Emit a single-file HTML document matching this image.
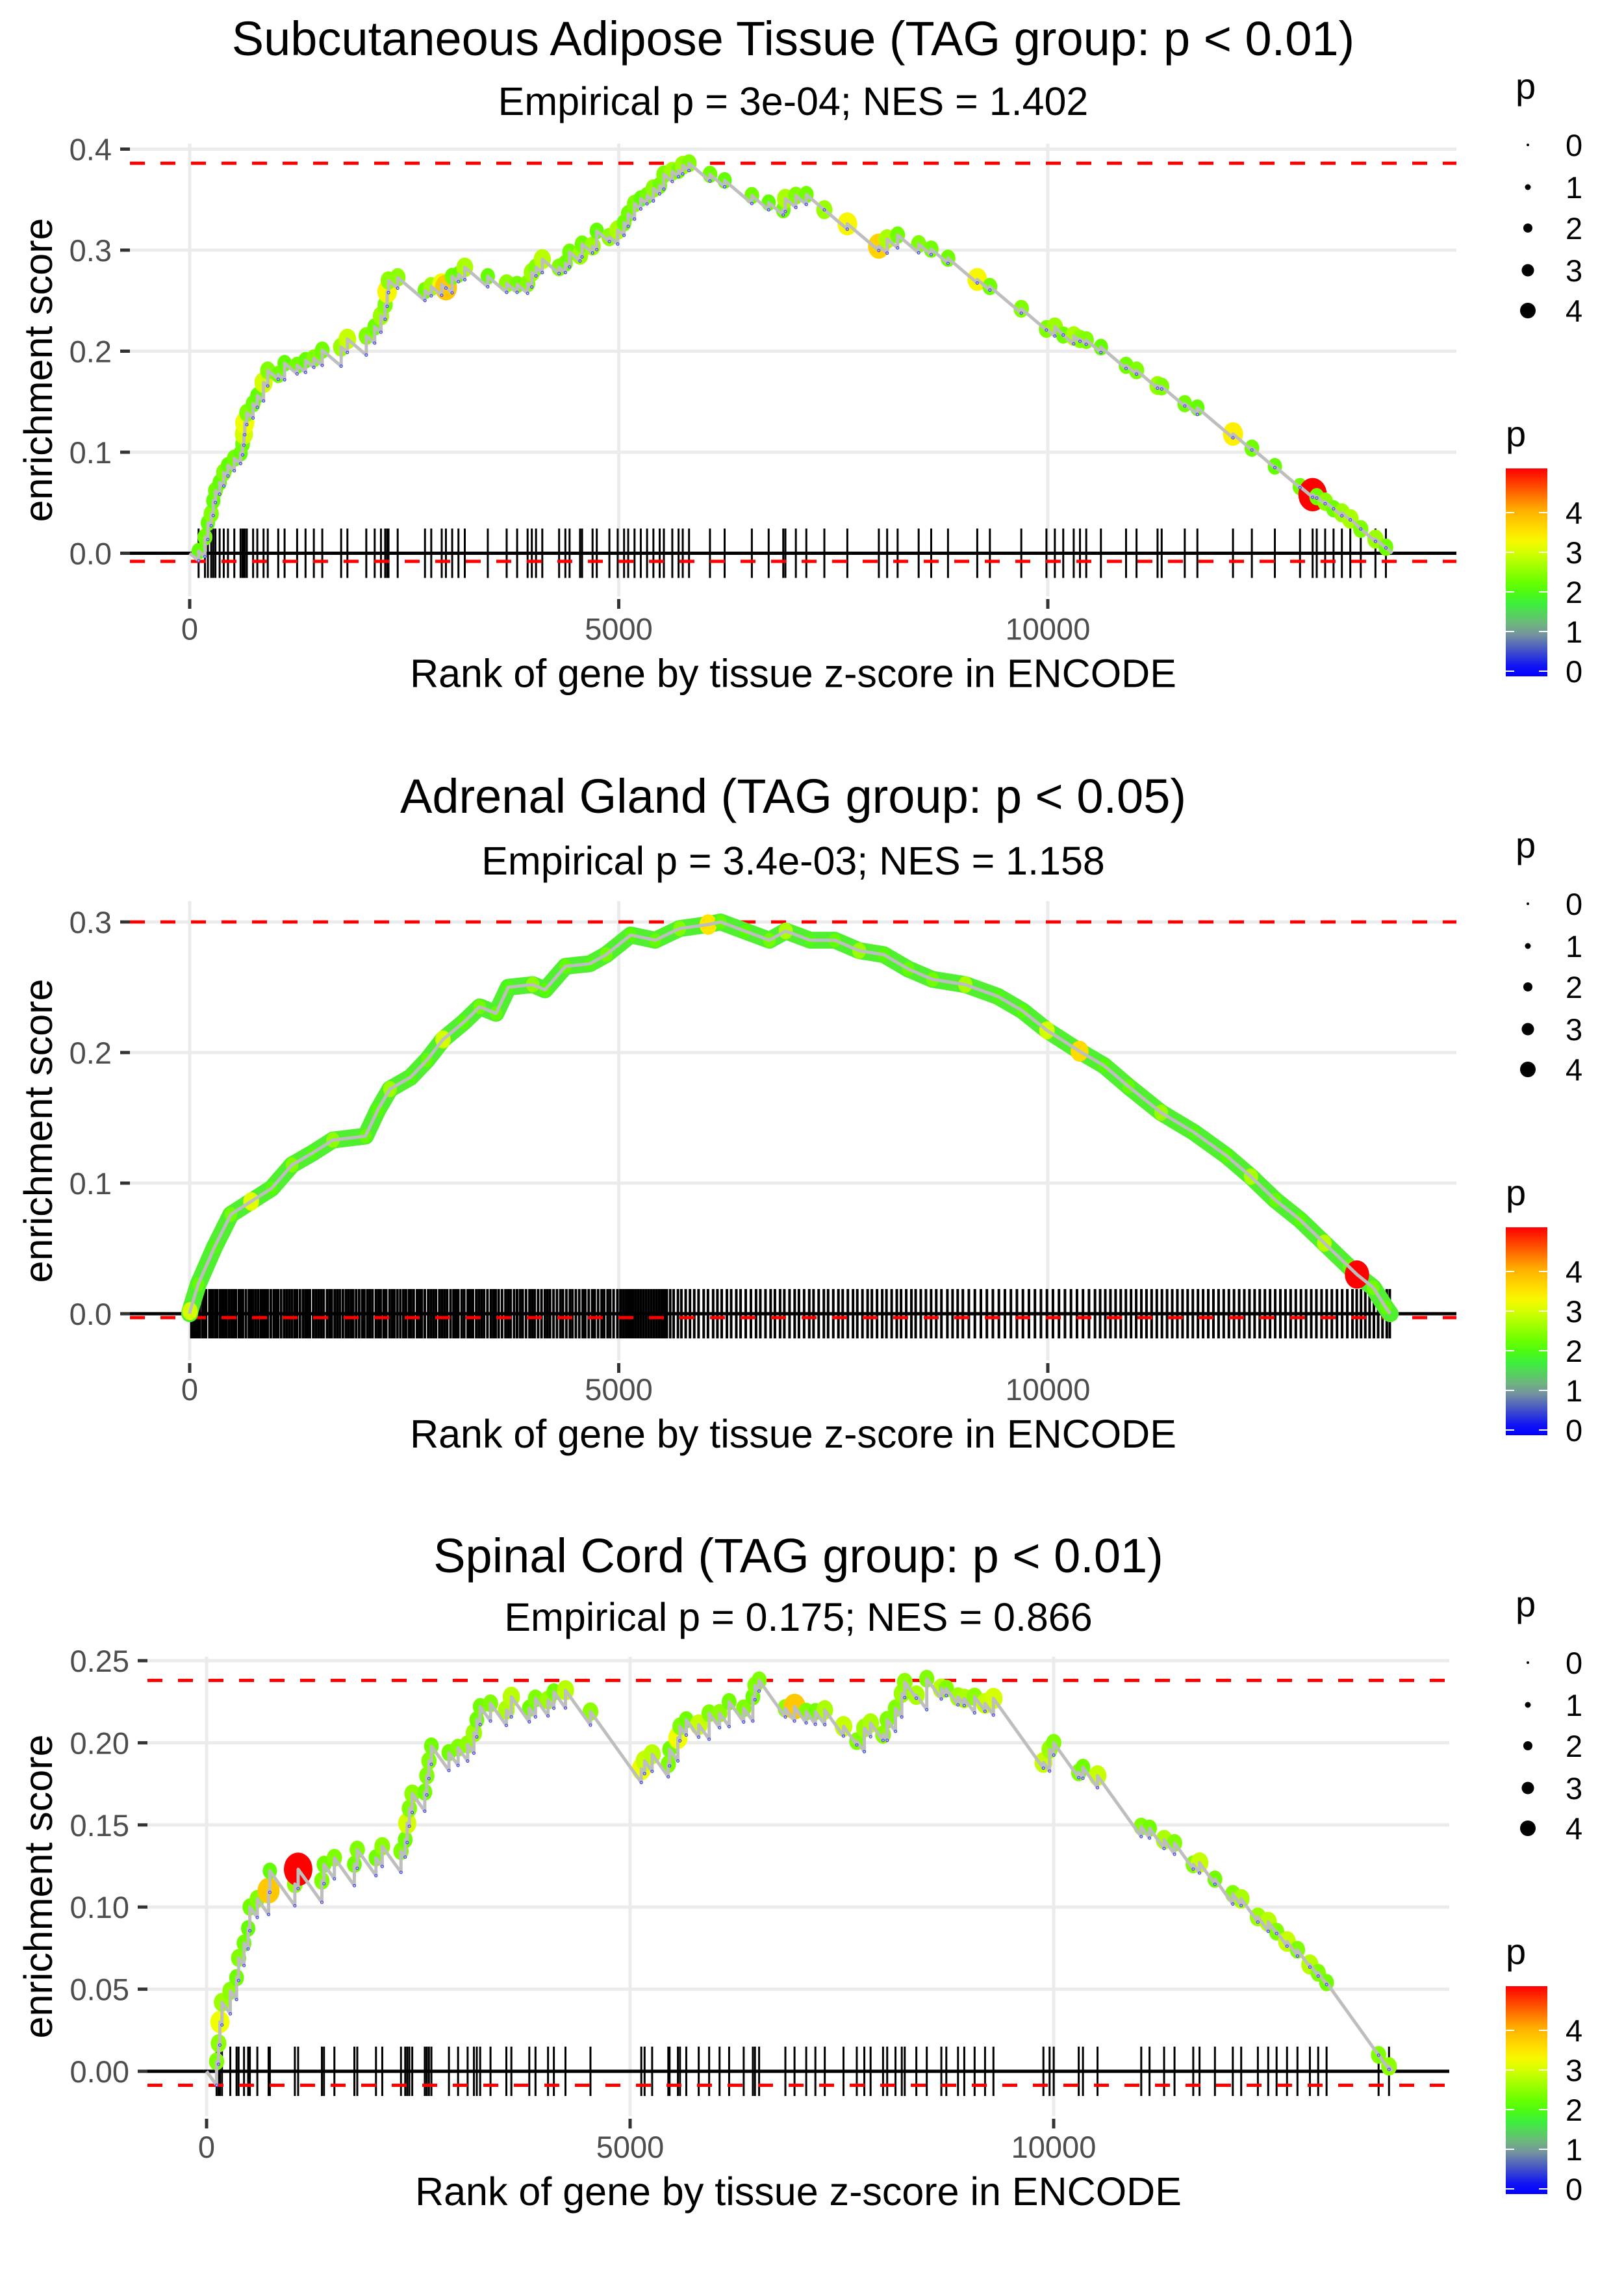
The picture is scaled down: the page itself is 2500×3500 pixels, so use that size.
<!DOCTYPE html>
<html><head><meta charset="utf-8"><title>Enrichment plots</title>
<style>
html,body{margin:0;padding:0;background:#fff;}
svg{display:block;font-family:"Liberation Sans",Arial,sans-serif;}
</style></head>
<body>
<svg id="chart" xmlns="http://www.w3.org/2000/svg" width="2500" height="3500" viewBox="0 0 2500 3500">
<rect x="0" y="0" width="2500" height="3500" fill="#fff"/>
</svg>
<script>
// ---------- shared tick data ----------
const xTicks = [0, 5000, 10000];
const xTickLabels = ['0', '5000', '10000'];
const legendSizes = [0, 1, 2, 3, 4];
const colorbarTicks = [0, 1, 2, 3, 4];

// ---------- panel 1: Subcutaneous Adipose Tissue ----------
const title1 = 'Subcutaneous Adipose Tissue (TAG group: p < 0.01)';
const subtitle1 = 'Empirical p = 3e-04; NES = 1.402';
const yTicks1 = [0, 0.1, 0.2, 0.3, 0.4];
const yTickLabels1 = ['0.0', '0.1', '0.2', '0.3', '0.4'];
const esMax1 = 0.386, esMin1 = -0.008, endRank1 = 14014;
const ranks1 = [104,178,212,251,275,300,349,397,446,520,593,617,632,642,666,739,788,861,910,1032,1106,1252,1350,1447,1545,1765,1838,2058,2156,2229,2278,2302,2317,2424,2742,2815,2937,2986,3059,3132,3206,3474,3694,3816,3938,3987,4036,4109,4305,4378,4427,4549,4573,4695,4744,4891,4988,5062,5110,5184,5257,5330,5404,5477,5526,5624,5697,5746,5819,6063,6234,6551,6747,6917,6942,7064,7186,7396,7664,8031,8128,8250,8495,8641,8837,9178,9325,9691,9984,10082,10180,10302,10375,10448,10619,10912,11034,11279,11327,11596,11743,12158,12378,12646,12939,13086,13134,13232,13330,13427,13525,13647,13818,13940];
const es1 = [0.002,0.016,0.030,0.039,0.052,0.062,0.070,0.080,0.087,0.094,0.099,0.108,0.118,0.129,0.139,0.148,0.156,0.169,0.181,0.177,0.188,0.186,0.191,0.193,0.201,0.204,0.212,0.215,0.224,0.235,0.246,0.259,0.270,0.273,0.260,0.264,0.266,0.263,0.274,0.276,0.283,0.274,0.267,0.266,0.267,0.278,0.283,0.291,0.283,0.287,0.298,0.295,0.306,0.304,0.319,0.313,0.320,0.327,0.336,0.346,0.351,0.354,0.361,0.364,0.375,0.378,0.379,0.384,0.386,0.375,0.369,0.354,0.347,0.340,0.351,0.354,0.355,0.340,0.326,0.304,0.311,0.315,0.306,0.301,0.292,0.271,0.264,0.242,0.222,0.224,0.216,0.215,0.212,0.211,0.204,0.186,0.181,0.166,0.165,0.148,0.144,0.118,0.104,0.086,0.066,0.058,0.056,0.051,0.044,0.040,0.034,0.024,0.014,0.006];
const p1 = [2.2,2.3,2.2,2.4,2.2,2.3,2.2,2.4,2.2,2.3,2.2,2.3,3.0,3.2,2.4,2.3,2.2,3.0,2.4,2.3,2.2,2.3,2.2,2.4,2.3,2.6,2.9,2.4,2.3,2.6,2.4,3.3,2.5,2.5,2.3,2.6,3.2,3.8,2.3,2.2,2.7,2.2,2.5,2.3,2.4,2.6,2.4,2.8,2.4,2.3,2.3,2.6,2.3,2.6,2.2,2.5,2.7,2.3,2.3,2.4,2.2,2.3,2.5,2.3,2.4,2.6,2.3,2.6,2.4,2.3,2.2,2.3,2.2,2.3,2.7,2.4,2.3,2.6,3.3,3.7,2.7,2.3,2.4,2.3,2.3,3.3,2.3,2.4,2.4,2.6,2.3,2.7,2.5,2.4,2.2,2.3,2.4,2.6,2.4,2.3,2.2,3.4,2.3,2.2,2.3,5.1,2.3,2.5,2.3,2.6,2.7,2.4,2.6,2.3];

// ---------- panel 2: Adrenal Gland ----------
const title2 = 'Adrenal Gland (TAG group: p < 0.05)';
const subtitle2 = 'Empirical p = 3.4e-03; NES = 1.158';
const yTicks2 = [0, 0.1, 0.2, 0.3];
const yTickLabels2 = ['0.0', '0.1', '0.2', '0.3'];
const esMax2 = 0.300, esMin2 = -0.003, endRank2 = 13990;
const ranks2 = [4,99,289,480,717,955,1193,1431,1669,2049,2192,2334,2572,2762,2952,3190,3380,3570,3713,3998,4141,4379,4664,4854,5140,5425,5710,6043,6186,6471,6756,6946,7232,7517,7802,8088,8373,8658,9039,9419,9705,9990,10370,10656,10941,11321,11701,12082,12367,12652,12938,13223,13508,13603,13793,13936];
const es2 = [0.002,0.0225,0.051,0.076,0.086,0.096,0.114,0.123,0.133,0.136,0.156,0.172,0.181,0.194,0.210,0.223,0.235,0.230,0.250,0.252,0.248,0.266,0.268,0.275,0.290,0.286,0.295,0.298,0.300,0.293,0.286,0.293,0.286,0.286,0.278,0.275,0.264,0.256,0.252,0.243,0.232,0.217,0.201,0.190,0.174,0.154,0.139,0.121,0.105,0.087,0.072,0.054,0.036,0.030,0.020,0.005];
const p2 = [3.0,2.2,2.0,2.3,3.1,2.1,2.4,2.0,2.5,2.2,2.1,2.6,2.0,2.2,3.0,2.1,2.3,2.2,2.0,2.5,2.1,2.2,2.0,2.3,2.1,2.2,2.4,3.5,2.2,2.1,2.3,2.7,2.0,2.2,2.6,2.1,2.2,2.3,2.7,2.0,2.1,3.0,3.6,2.1,2.2,2.6,2.0,2.1,2.7,2.2,2.1,2.8,2.2,5.1,2.3,2.2];
const bar2 = [20,45,70,95,118,150,172,190,230,251,270,300,322,355,380,402,430,461,490,512,540,575,598,620,655,690,715,740,770,800,832,860,885,910,945,980,1010,1030,1065,1100,1130,1160,1190,1222,1250,1285,1320,1350,1372,1400,1440,1470,1500,1530,1560,1600,1630,1655,1690,1720,1750,1785,1820,1850,1880,1905,1940,1975,2010,2035,2070,2100,2130,2170,2200,2225,2260,2290,2330,2360,2385,2420,2455,2490,2520,2555,2580,2610,2650,2680,2705,2740,2780,2810,2840,2870,2910,2940,2970,3000,3040,3075,3100,3130,3170,3200,3240,3270,3300,3340,3370,3400,3430,3470,3510,3540,3565,3600,3640,3680,3710,3740,3780,3815,3850,3880,3920,3960,3990,4020,4060,4100,4140,4170,4200,4240,4280,4320,4350,4390,4430,4460,4500,4540,4580,4610,4650,4690,4720,4760,4800,4830,4870,4900,4940,4985,5020,5050,5080,5110,5140,5170,5200,5230,5260,5290,5320,5350,5380,5410,5440,5470,5500,5530,5560,5600,5640,5690,5730,5780,5830,5880,5930,5990,6040,6100,6150,6200,6260,6310,6370,6420,6480,6540,6600,6650,6710,6770,6820,6880,6930,6990,7050,7100,7160,7220,7270,7330,7390,7440,7500,7560,7610,7670,7730,7780,7840,7900,7950,8010,8070,8120,8180,8240,8290,8350,8410,8460,8520,8580,8640,8700,8760,8830,8890,8950,9010,9080,9150,9220,9290,9360,9430,9500,9570,9640,9710,9780,9850,9920,9990,10060,10130,10200,10270,10340,10410,10480,10550,10610,10670,10730,10790,10850,10910,10970,11030,11090,11150,11210,11270,11330,11390,11450,11510,11570,11630,11690,11750,11810,11870,11930,11990,12050,12110,12170,12230,12290,12350,12410,12470,12530,12590,12650,12710,12770,12830,12890,12950,13010,13070,13130,13190,13250,13310,13370,13430,13490,13550,13600,13650,13700,13750,13800,13850,13900,13950,13985];

// ---------- panel 3: Spinal Cord ----------
const title3 = 'Spinal Cord (TAG group: p < 0.01)';
const subtitle3 = 'Empirical p = 0.175; NES = 0.866';
const yTicks3 = [0, 0.05, 0.10, 0.15, 0.20, 0.25];
const yTickLabels3 = ['0.00', '0.05', '0.10', '0.15', '0.20', '0.25'];
const esMax3 = 0.238, esMin3 = -0.0085, endRank3 = 14000;
const ranks3 = [118,142,157,182,280,354,378,442,491,511,599,732,747,1042,1081,1361,1386,1509,1745,1779,2000,2074,2295,2345,2369,2394,2428,2576,2600,2625,2654,2861,2969,3082,3156,3190,3230,3352,3539,3598,3810,3883,4031,4100,4237,4532,5132,5171,5260,5451,5466,5564,5589,5663,5810,5933,6056,6169,6341,6449,6474,6523,6833,6941,7079,7187,7298,7519,7676,7765,7839,7986,8035,8133,8207,8242,8379,8502,8674,8733,8871,8945,9067,9190,9289,9879,9952,10001,10296,10346,10518,11034,11132,11304,11427,11648,11722,11904,12115,12214,12411,12533,12632,12755,12878,13025,13123,13222,13836,13959];
const es3 = [0.006,0.017,0.030,0.042,0.049,0.057,0.069,0.078,0.087,0.100,0.105,0.110,0.122,0.114,0.123,0.116,0.126,0.130,0.126,0.135,0.130,0.137,0.134,0.141,0.151,0.160,0.169,0.170,0.180,0.189,0.198,0.194,0.197,0.199,0.206,0.214,0.222,0.224,0.220,0.228,0.221,0.227,0.226,0.231,0.232,0.219,0.184,0.189,0.193,0.187,0.196,0.203,0.210,0.214,0.211,0.218,0.218,0.225,0.221,0.228,0.235,0.238,0.221,0.222,0.219,0.219,0.220,0.210,0.201,0.209,0.212,0.205,0.214,0.221,0.230,0.237,0.229,0.239,0.233,0.233,0.228,0.227,0.228,0.224,0.227,0.188,0.196,0.200,0.182,0.185,0.180,0.149,0.148,0.141,0.139,0.126,0.127,0.117,0.108,0.105,0.094,0.091,0.085,0.079,0.074,0.065,0.060,0.054,0.010,0.003];
const p3 = [2.4,2.5,3.2,2.6,2.5,2.3,2.4,2.3,2.2,2.3,2.4,3.8,2.2,2.5,5.1,2.4,2.3,2.4,2.3,2.4,2.3,2.5,2.4,2.3,3.0,2.4,2.5,2.3,2.4,2.4,2.3,2.3,2.4,2.5,2.6,2.3,2.3,2.4,2.7,2.8,2.3,2.4,2.6,2.3,2.8,2.5,3.2,2.9,2.8,2.4,2.3,3.2,2.4,2.3,2.9,2.4,2.5,2.3,2.4,2.3,2.4,2.4,2.5,3.8,2.4,2.3,2.7,2.9,2.4,2.6,2.7,2.5,2.4,2.4,2.6,2.5,2.7,2.4,2.8,2.4,2.6,2.7,2.5,2.9,3.0,2.9,2.6,2.4,2.4,2.3,2.9,2.4,2.3,2.7,2.4,2.4,2.9,2.3,2.4,2.7,2.6,2.8,2.4,2.9,2.4,2.8,2.4,2.3,2.4,2.5];

// ---------- helpers ----------
const NS = 'http://www.w3.org/2000/svg';
const svg = document.getElementById('chart');
function mk(tag, attrs, parent) {
  const e = document.createElementNS(NS, tag);
  for (const k in attrs) e.setAttribute(k, attrs[k]);
  (parent || svg).appendChild(e);
  return e;
}
const colorStops = [[0,[0,0,255]],[1,[127,159,150]],[1.7,[60,240,60]],[2.1,[85,255,0]],[3.2,[240,255,0]],[3.4,[255,240,0]],[4.1,[255,170,0]],[5.1,[255,0,0]]];
function pColor(p) {
  if (p <= colorStops[0][0]) return 'rgb(0,0,255)';
  for (let i = 1; i < colorStops.length; i++) {
    if (p <= colorStops[i][0]) {
      const a = colorStops[i-1], b = colorStops[i];
      const t = (p - a[0]) / (b[0] - a[0]);
      const c = a[1].map((v, j) => Math.round(v + (b[1][j] - v) * t));
      return 'rgb(' + c.join(',') + ')';
    }
  }
  return 'rgb(255,0,0)';
}
function pRadius(p) { return 3 + 4.2 * p; }
const DECLINE = 0.000072;

const panels = [
  {title: title1, subtitle: subtitle1, yTicks: yTicks1, yLabels: yTickLabels1, esMax: esMax1, esMin: esMin1, end: endRank1,
   ranks: ranks1, es: es1, p: p1, bars: ranks1, zig: true, barW: 3,
   g: {x0: 292, k: 0.1321, zeroY: 851.5, pu: 1555, left: 200, right: 2242, top: 221, bottom: 918, titleY: 85, subY: 177, legOff: 0}},
  {title: title2, subtitle: subtitle2, yTicks: yTicks2, yLabels: yTickLabels2, esMax: esMax2, esMin: esMin2, end: endRank2,
   ranks: ranks2, es: es2, p: p2, bars: bar2, zig: false, barW: 4,
   g: {x0: 292, k: 0.1321, zeroY: 2022, pu: 2010, left: 200, right: 2242, top: 1387, bottom: 2094, titleY: 1251, subY: 1346, legOff: 1168}},
  {title: title3, subtitle: subtitle3, yTicks: yTicks3, yLabels: yTickLabels3, esMax: esMax3, esMin: esMin3, end: endRank3,
   ranks: ranks3, es: es3, p: p3, bars: ranks3, zig: true, barW: 3,
   g: {x0: 318, k: 0.1304, zeroY: 3188, pu: 2528, left: 227, right: 2231, top: 2550, bottom: 3257, titleY: 2420, subY: 2510, legOff: 2336}}
];

panels.forEach((P, pi) => {
  const g = P.g;
  const X = r => g.x0 + r * g.k;
  const Y = v => g.zeroY - v * g.pu;
  const grp = mk('g', {});
  
  
  const cx = (g.left + g.right) / 2;

  const t = mk('text', {x: cx, y: g.titleY, 'text-anchor': 'middle', 'font-size': 74, fill: '#000'}, grp);
  
  
  t.textContent = P.title;
  const st = mk('text', {x: cx, y: g.subY, 'text-anchor': 'middle', 'font-size': 61, fill: '#000'}, grp);
  
  
  st.textContent = P.subtitle;

  P.yTicks.forEach((v, i) => {
    const l = mk('line', {x1: g.left, x2: g.right, y1: Y(v), y2: Y(v), stroke: '#ebebeb', 'stroke-width': 5}, grp);
    
    
    const tk = mk('line', {x1: g.left - 15, x2: g.left, y1: Y(v), y2: Y(v), stroke: '#333', 'stroke-width': 5}, grp);
    
    
    const lb = mk('text', {x: g.left - 28, y: Y(v) + 17, 'text-anchor': 'end', 'font-size': 47, fill: '#4d4d4d'}, grp);
    
    
    lb.textContent = P.yLabels[i];
  });
  xTicks.forEach((v, i) => {
    const l = mk('line', {x1: X(v), x2: X(v), y1: g.top, y2: g.bottom, stroke: '#ebebeb', 'stroke-width': 5}, grp);
    
    
    const tk = mk('line', {x1: X(v), x2: X(v), y1: g.bottom + 4, y2: g.bottom + 19, stroke: '#333', 'stroke-width': 5}, grp);
    
    
    const lb = mk('text', {x: X(v), y: g.zeroY + 133, 'text-anchor': 'middle', 'font-size': 47, fill: '#4d4d4d'}, grp);
    
    
    lb.textContent = xTickLabels[i];
  });

  const xt = mk('text', {x: cx, y: g.zeroY + 206, 'text-anchor': 'middle', 'font-size': 61, fill: '#000'}, grp);
  
  
  xt.textContent = 'Rank of gene by tissue z-score in ENCODE';
  const ymid = (g.top + g.bottom) / 2;
  const yt = mk('text', {x: 0, y: 0, 'text-anchor': 'middle', 'font-size': 61, fill: '#000', transform: 'translate(80,' + ymid + ') rotate(-90)'}, grp);
  
  
  yt.textContent = 'enrichment score';

  const bg = mk('g', {}, grp);
  
  
  P.bars.forEach(r => {
    const b = mk('line', {x1: X(r), x2: X(r), y1: g.zeroY - 38, y2: g.zeroY + 38, stroke: '#000', 'stroke-width': P.barW}, bg);
    
    
  });

  const zl = mk('line', {x1: g.left, x2: g.right, y1: Y(0), y2: Y(0), stroke: '#000', 'stroke-width': 5}, grp);
  
  
  [P.esMax, P.esMin].forEach((v, i) => {
    const d = mk('line', {x1: g.left, x2: g.right, y1: Y(v), y2: Y(v), stroke: '#ff0000', 'stroke-width': 5, 'stroke-dasharray': '23 24'}, grp);
    
    
  });

  const pts = [[0, 0]];
  const lows = [];
  let prevR = 0, prevE = 0;
  P.ranks.forEach((r, i) => {
    if (P.zig) {
      const low = Math.min(prevE - DECLINE * (r - prevR), P.es[i]);
      pts.push([r, low]);
      lows.push([r, low]);
    }
    pts.push([r, P.es[i]]);
    prevR = r; prevE = P.es[i];
  });
  pts.push([P.end, 0]);
  const dstr = pts.map((q, i) => (i ? 'L' : 'M') + X(q[0]).toFixed(1) + ',' + Y(q[1]).toFixed(1)).join(' ');

  if (!P.zig) {
    const band = mk('path', {d: dstr, fill: 'none', stroke: '#50f030', 'stroke-width': 26, 'stroke-linejoin': 'round', 'stroke-linecap': 'round'}, grp);
    
    
  }

  const dg = mk('g', {}, grp);
  
  
  P.ranks.forEach((r, i) => {
    const rad = P.zig ? pRadius(P.p[i]) : pRadius(P.p[i]) * 0.85;
    const c = mk('ellipse', {cx: X(r), cy: Y(P.es[i]), rx: rad * 0.9, ry: rad * 1.05, fill: pColor(P.p[i])}, dg);
    
    
  });

  const line = mk('path', {d: dstr, fill: 'none', stroke: '#bebebe', 'stroke-width': 5, 'stroke-linejoin': 'round'}, grp);
  
  

  lows.forEach(q => {
    const c = mk('circle', {cx: X(q[0]), cy: Y(q[1]), r: 2, fill: 'none', stroke: '#3333ff', 'stroke-width': 1}, grp);
    
    
  });

  const o = g.legOff;
  const lg = mk('g', {}, grp);
  
  
  const lt = mk('text', {x: 2333, y: 152 + o, 'font-size': 56, fill: '#000'}, lg);
  
  
  lt.textContent = 'p';
  const rowY = [223, 288, 351, 416, 478];
  legendSizes.forEach((s, i) => {
    const c = mk('circle', {cx: 2352, cy: rowY[i] + o, r: 2 + 2.5 * s, fill: '#000'}, lg);
    
    
    const tx = mk('text', {x: 2410, y: rowY[i] + o + 17, 'font-size': 47, fill: '#000'}, lg);
    
    
    tx.textContent = String(s);
  });

  const cg = mk('g', {}, grp);
  
  
  const ct = mk('text', {x: 2318, y: 687 + o, 'font-size': 56, fill: '#000'}, cg);
  
  
  ct.textContent = 'p';
  const barTop = 721 + o, barBot = 1041 + o, pTopVal = 5.11, zeroPx = 1033 + o, unit = 61;
  const gid = 'cbar' + pi;
  const defs = mk('defs', {}, cg);
  const lgd = mk('linearGradient', {id: gid, x1: 0, y1: 1, x2: 0, y2: 0}, defs);
  const pMinVal = (zeroPx - barBot) / unit;
  for (let s = 0; s <= 20; s++) {
    const v = pMinVal + (pTopVal - pMinVal) * s / 20;
    mk('stop', {offset: (s / 20).toFixed(3), 'stop-color': pColor(v)}, lgd);
  }
  const cb = mk('rect', {x: 2318, y: barTop, width: 64, height: barBot - barTop, fill: 'url(#' + gid + ')'}, cg);
  
  
  colorbarTicks.forEach(v => {
    const yy = zeroPx - v * unit;
    const a = mk('line', {x1: 2318, x2: 2331, y1: yy, y2: yy, stroke: '#fff', 'stroke-width': 2}, cg);
    
    
    const b = mk('line', {x1: 2369, x2: 2382, y1: yy, y2: yy, stroke: '#fff', 'stroke-width': 2}, cg);
    
    
    const tx = mk('text', {x: 2410, y: yy + 17, 'font-size': 47, fill: '#000'}, cg);
    
    
    tx.textContent = String(v);
  });
});
</script>
</body></html>
